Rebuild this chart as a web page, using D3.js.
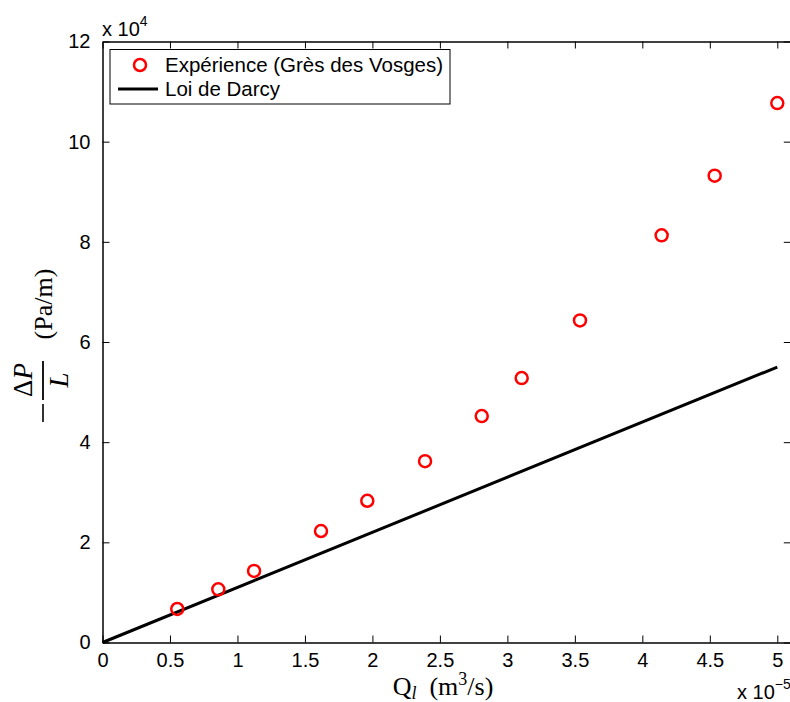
<!DOCTYPE html>
<html>
<head>
<meta charset="utf-8">
<script src="https://cdn.jsdelivr.net/npm/d3@7"></script>
<style>
  html, body { margin: 0; padding: 0; background: #fff; }
  svg { display: block; }
</style>
</head>
<body>
<svg id="chart" width="790" height="702"></svg>
<script>
// Data (x in units of 1e-5 m^3/s, y in units of 1e4 Pa/m)
const flowRates = [0.554, 0.858, 1.123, 1.619, 1.962, 2.39, 2.81, 3.106, 3.538, 4.143, 4.536, 5.0];
const pressureGradients = [0.669, 1.062, 1.428, 2.226, 2.83, 3.62, 4.52, 5.28, 6.43, 8.13, 9.32, 10.77];
const darcyX = [0, 5];
const darcyY = [0, 5.5];
const xTicks = [0, 0.5, 1, 1.5, 2, 2.5, 3, 3.5, 4, 4.5, 5];
const yTicks = [0, 2, 4, 6, 8, 10, 12];
const legendLabels = ["Expérience (Grès des Vosges)", "Loi de Darcy"];

const svg = d3.select("#chart");
const pLeft = 102.5, pRight = 790.8, pTop = 41.5, pBottom = 642.5;
const x = d3.scaleLinear().domain([0, 5.1]).range([pLeft, pRight]);
const y = d3.scaleLinear().domain([0, 12]).range([pBottom, pTop]);
const tickFont = "'Liberation Sans', Arial, sans-serif";
const serif = "'Liberation Serif', 'DejaVu Serif', serif";

// Axes
function styleAxis(g, hideLabels) {
  g.select(".domain").attr("stroke", "#000").attr("stroke-width", 1.5);
  g.selectAll(".tick line").attr("stroke", "#000").attr("stroke-width", 1);
  g.selectAll(".tick text").attr("fill", "#000").attr("font-family", tickFont).attr("font-size", 20);
  if (hideLabels) g.selectAll(".tick text").remove();
}
svg.append("g").attr("transform", `translate(0,${pBottom})`)
  .call(d3.axisBottom(x).tickValues(xTicks).tickSizeInner(-7).tickSizeOuter(0).tickPadding(10).tickFormat(d3.format("")))
  .call(g => styleAxis(g, false));
svg.append("g").attr("transform", `translate(0,${pTop})`)
  .call(d3.axisTop(x).tickValues(xTicks).tickSizeInner(-7).tickSizeOuter(0))
  .call(g => styleAxis(g, true));
svg.append("g").attr("transform", `translate(${pLeft},0)`)
  .call(d3.axisLeft(y).tickValues(yTicks).tickSizeInner(-7).tickSizeOuter(0).tickPadding(12))
  .call(g => styleAxis(g, false));
svg.append("g").attr("transform", `translate(${pRight},0)`)
  .call(d3.axisRight(y).tickValues(yTicks).tickSizeInner(-7).tickSizeOuter(0))
  .call(g => styleAxis(g, true));

// Darcy line
svg.append("path")
  .datum(darcyX.map((d, i) => [d, darcyY[i]]))
  .attr("fill", "none").attr("stroke", "#000").attr("stroke-width", 3)
  .attr("d", d3.line().x(d => x(d[0])).y(d => y(d[1])));

// Experimental points
svg.append("g").selectAll("circle")
  .data(flowRates.map((d, i) => [d, pressureGradients[i]]))
  .join("circle")
  .attr("cx", d => x(d[0])).attr("cy", d => y(d[1])).attr("r", 6)
  .attr("fill", "none").attr("stroke", "#ff0000").attr("stroke-width", 2.5);

// Exponent labels
const e4 = svg.append("text").attr("x", 102).attr("y", 36)
  .attr("font-family", tickFont).attr("font-size", 20).attr("fill", "#000");
e4.append("tspan").text("x 10");
e4.append("tspan").attr("dy", -10).attr("font-size", 14).text("4");
const e5 = svg.append("text").attr("x", 737).attr("y", 699)
  .attr("font-family", tickFont).attr("font-size", 20).attr("fill", "#000");
e5.append("tspan").text("x 10");
e5.append("tspan").attr("dy", -10).attr("font-size", 14).text("\u22125");

// X label
const xl = svg.append("text").attr("x", 443).attr("y", 695).attr("text-anchor", "middle")
  .attr("font-family", serif).attr("font-size", 26).attr("fill", "#000");
xl.append("tspan").text("Q");
xl.append("tspan").attr("font-style", "italic").attr("font-size", 18).attr("dy", 4).text("l");
xl.append("tspan").attr("dy", -4).text("\u2002(m");
xl.append("tspan").attr("font-size", 18).attr("dy", -10).text("3");
xl.append("tspan").attr("dy", 10).text("/s)");

// Y label (rotated)
const yl = svg.append("g").attr("transform", "translate(43,342) rotate(-90)")
  .attr("font-family", serif).attr("fill", "#000");
// minus sign
yl.append("line").attr("x1", -80).attr("x2", -62).attr("y1", 0).attr("y2", 0).attr("stroke", "#000").attr("stroke-width", 1.6);
// fraction bar
yl.append("line").attr("x1", -58).attr("x2", -19).attr("y1", 0).attr("y2", 0).attr("stroke", "#000").attr("stroke-width", 1.8);
const dp = yl.append("text").attr("x", -38).attr("y", -11).attr("text-anchor", "middle").attr("font-size", 27);
dp.append("tspan").text("\u0394");
dp.append("tspan").attr("font-style", "italic").text("P");
yl.append("text").attr("x", -38).attr("y", 25).attr("text-anchor", "middle").attr("font-size", 27).attr("font-style", "italic").text("L");
yl.append("text").attr("x", 38).attr("y", 9).attr("text-anchor", "middle").attr("font-size", 26).text("(Pa/m)");

// Legend
const lg = svg.append("g");
lg.append("rect").attr("x", 110).attr("y", 49.5).attr("width", 340).attr("height", 54.5)
  .attr("fill", "#fff").attr("stroke", "#000").attr("stroke-width", 1);
lg.append("circle").attr("cx", 140).attr("cy", 65).attr("r", 6)
  .attr("fill", "none").attr("stroke", "#ff0000").attr("stroke-width", 2.5);
lg.append("line").attr("x1", 118).attr("x2", 158).attr("y1", 89).attr("y2", 89)
  .attr("stroke", "#000").attr("stroke-width", 3);
lg.selectAll("text.lab").data(legendLabels).join("text").attr("class", "lab")
  .attr("x", 165).attr("y", (d, i) => 72 + i * 24)
  .attr("font-family", tickFont).attr("font-size", 20.5).attr("fill", "#000")
  .text(d => d);
</script>
</body>
</html>
